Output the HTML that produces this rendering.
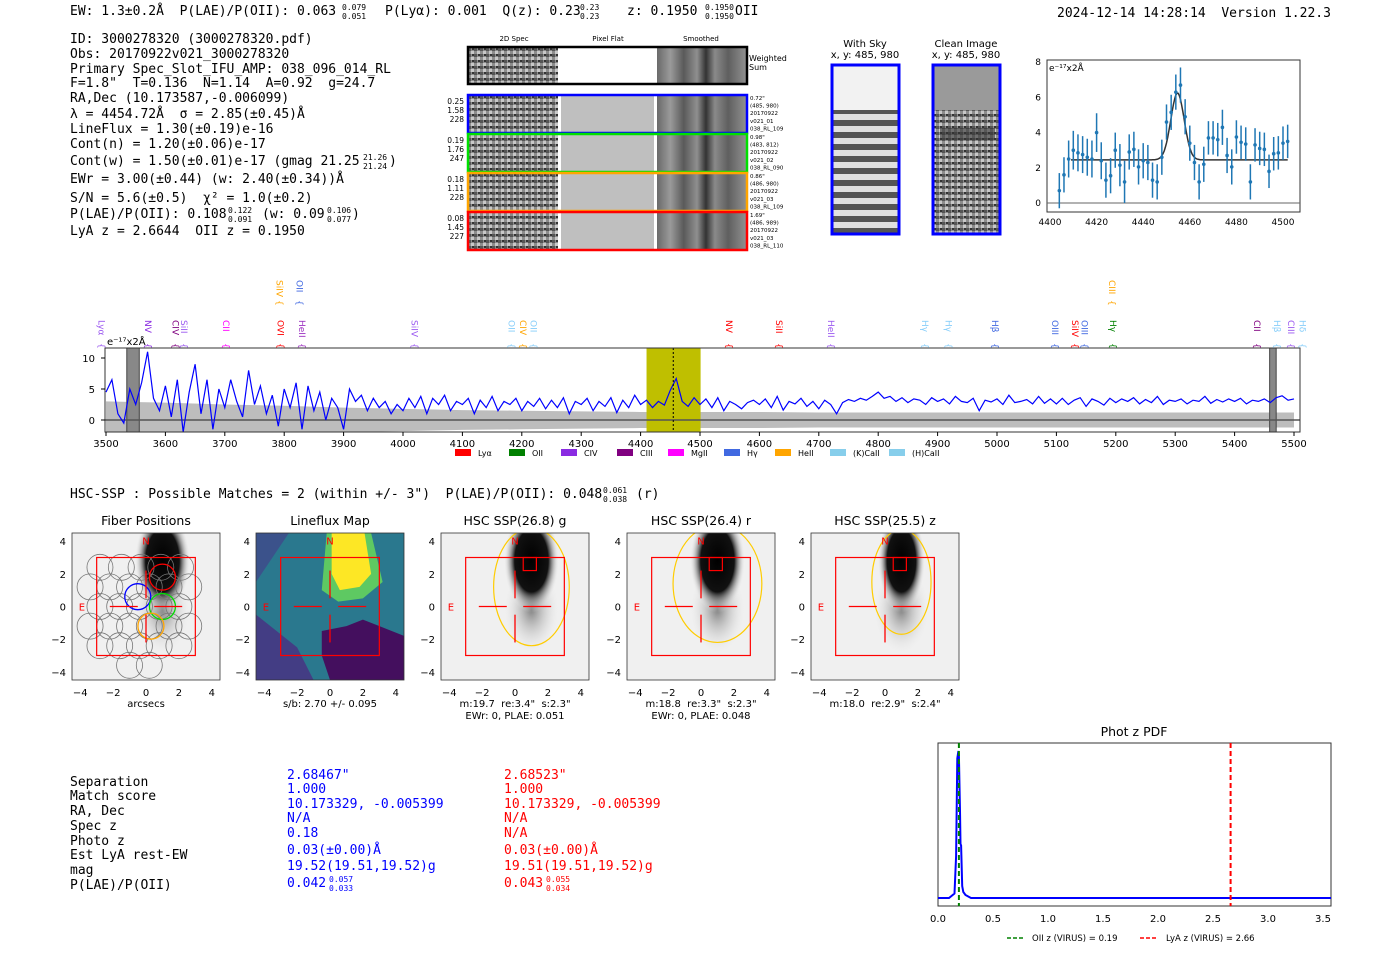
<!DOCTYPE html>
<html><head><meta charset="utf-8"><style>
html,body{margin:0;padding:0;background:#fff;}
svg{display:block;}
text{white-space:pre;}
.m{font-family:"DejaVu Sans Mono","Liberation Mono",monospace;font-size:13px;fill:#000;}
.s{font-family:"DejaVu Sans","Liberation Sans",sans-serif;}
</style></head><body>
<svg id="root" width="1400" height="953" viewBox="0 0 1400 953" xmlns="http://www.w3.org/2000/svg" xml:space="preserve">
<defs>
 <linearGradient id="smooth" x1="0" x2="1" y1="0" y2="0">
  <stop offset="0" stop-color="#6a6a6a"/><stop offset="0.15" stop-color="#9a9a9a"/><stop offset="0.3" stop-color="#5a5a5a"/><stop offset="0.45" stop-color="#8f8f8f"/><stop offset="0.55" stop-color="#333"/><stop offset="0.65" stop-color="#8a8a8a"/><stop offset="0.8" stop-color="#5f5f5f"/><stop offset="1" stop-color="#909090"/>
 </linearGradient>
 <pattern id="noise" width="6" height="6" patternUnits="userSpaceOnUse">
  <rect width="6" height="6" fill="#8c8c8c"/><rect x="0" y="0" width="3" height="3" fill="#555"/><rect x="3" y="3" width="3" height="3" fill="#c8c8c8"/><rect x="4" y="0" width="2" height="2" fill="#333"/>
 </pattern>
 <pattern id="sky" width="10" height="12" patternUnits="userSpaceOnUse">
  <rect width="10" height="12" fill="#e0e0e0"/><rect y="0" width="10" height="6" fill="#555"/>
 </pattern>
 <radialGradient id="blob" cx="0.5" cy="0.5" r="0.5"><stop offset="0" stop-color="#000"/><stop offset="0.6" stop-color="#111"/><stop offset="1" stop-color="#fff" stop-opacity="0"/></radialGradient>
 <radialGradient id="tail" cx="0.5" cy="0.5" r="0.5"><stop offset="0" stop-color="#666" stop-opacity="0.8"/><stop offset="1" stop-color="#fff" stop-opacity="0"/></radialGradient>
</defs>

<g>
<text class="m" x="70" y="15">EW: 1.3±0.2Å  P(LAE)/P(OII): 0.063</text>
<text class="m" x="342" y="10" style="font-size:8px">0.079</text>
<text class="m" x="342" y="19" style="font-size:8px">0.051</text>
<text class="m" x="385" y="15">P(Lyα): 0.001  Q(z): 0.23</text>
<text class="m" x="580" y="10" style="font-size:8px">0.23</text>
<text class="m" x="580" y="19" style="font-size:8px">0.23</text>
<text class="m" x="627" y="15">z: 0.1950</text>
<text class="m" x="705" y="10" style="font-size:8px">0.1950</text>
<text class="m" x="705" y="19" style="font-size:8px">0.1950</text>
<text class="m" x="735" y="15">OII</text>
<text class="m" x="1057" y="17">2024-12-14 14:28:14  Version 1.22.3</text>
</g>

<g>
<text class="m" x="70" y="43">ID: 3000278320 (3000278320.pdf)</text>
<text class="m" x="70" y="58">Obs: 20170922v021_3000278320</text>
<text class="m" x="70" y="73">Primary Spec_Slot_IFU_AMP: 038_096_014_RL</text>
<text class="m" x="70" y="87">F=1.8"  T=0.136  N=1.14  A=0.92  g=24.7</text>
<text class="m" x="70" y="102">RA,Dec (10.173587,-0.006099)</text>
<text class="m" x="70" y="118">λ = 4454.72Å  σ = 2.85(±0.45)Å</text>
<text class="m" x="70" y="133">LineFlux = 1.30(±0.19)e-16</text>
<text class="m" x="70" y="148">Cont(n) = 1.20(±0.06)e-17</text>
<text class="m" x="70" y="165">Cont(w) = 1.50(±0.01)e-17 (gmag 21.25</text>
<text class="m" x="363" y="160" style="font-size:8px">21.26</text>
<text class="m" x="363" y="169" style="font-size:8px">21.24</text>
<text class="m" x="389" y="165">)</text>
<text class="m" x="70" y="183">EWr = 3.00(±0.44) (w: 2.40(±0.34))Å</text>
<text class="m" x="70" y="202">S/N = 5.6(±0.5)  χ² = 1.0(±0.2)</text>
<text class="m" x="70" y="218">P(LAE)/P(OII): 0.108</text>
<text class="m" x="228" y="213" style="font-size:8px">0.122</text>
<text class="m" x="228" y="222" style="font-size:8px">0.091</text>
<text class="m" x="262" y="218">(w: 0.09</text>
<text class="m" x="327" y="213" style="font-size:8px">0.106</text>
<text class="m" x="327" y="222" style="font-size:8px">0.077</text>
<text class="m" x="352" y="218">)</text>
<text class="m" x="70" y="235">LyA z = 2.6644  OII z = 0.1950</text>
</g>

<g id="spec2d" class="s" font-size="7">
<text x="514" y="41" text-anchor="middle">2D Spec</text>
<text x="608" y="41" text-anchor="middle">Pixel Flat</text>
<text x="701" y="41" text-anchor="middle">Smoothed</text>
<text x="749" y="61" font-size="8">Weighted</text>
<text x="749" y="70" font-size="8">Sum</text>
</g>

<g>
<text class="s" x="865" y="47" font-size="10" text-anchor="middle">With Sky</text>
<text class="s" x="865" y="58" font-size="10" text-anchor="middle">x, y: 485, 980</text>
<rect x="832" y="65" width="67" height="169" fill="#f2f2f2"/>
<rect x="832" y="110" width="67" height="124" fill="url(#sky)"/>
<rect x="832" y="65" width="67" height="169" fill="none" stroke="#0000ff" stroke-width="3"/>
</g>
<g>
<text class="s" x="966" y="47" font-size="10" text-anchor="middle">Clean Image</text>
<text class="s" x="966" y="58" font-size="10" text-anchor="middle">x, y: 485, 980</text>
<rect x="933" y="65" width="67" height="169" fill="#9a9a9a"/>
<rect x="933" y="110" width="67" height="124" fill="url(#noise)"/>
<rect x="940" y="128" width="55" height="12" fill="#333" opacity="0.6"/>
<rect x="933" y="65" width="67" height="169" fill="none" stroke="#0000ff" stroke-width="3"/>
</g>

<g id="zoomchart"></g>
<g id="spectrum"></g>

<text class="m" x="70" y="498">HSC-SSP : Possible Matches = 2 (within +/- 3")  P(LAE)/P(OII): 0.048</text>
<text class="m" x="603" y="493" style="font-size:8px">0.061</text>
<text class="m" x="603" y="502" style="font-size:8px">0.038</text>
<text class="m" x="636" y="498">(r)</text>

<g id="cutouts"></g>

<g>
<g class="m">
<text class="m" x="70" y="786">Separation</text><text class="m" x="70" y="800">Match score</text><text class="m" x="70" y="815">RA, Dec</text><text class="m" x="70" y="830">Spec z</text><text class="m" x="70" y="845">Photo z</text><text class="m" x="70" y="859">Est LyA rest-EW</text><text class="m" x="70" y="874">mag</text><text class="m" x="70" y="889">P(LAE)/P(OII)</text>
</g>
<g>
<text class="m" x="287" y="779" style="fill:#0000ff">2.68467"</text><text class="m" x="287" y="793" style="fill:#0000ff">1.000</text><text class="m" x="287" y="808" style="fill:#0000ff">10.173329, -0.005399</text><text class="m" x="287" y="822" style="fill:#0000ff">N/A</text><text class="m" x="287" y="837" style="fill:#0000ff">0.18</text><text class="m" x="287" y="854" style="fill:#0000ff">0.03(±0.00)Å</text><text class="m" x="287" y="870" style="fill:#0000ff">19.52(19.51,19.52)g</text><text class="m" x="287" y="887" style="fill:#0000ff">0.042</text><text class="m" x="329" y="882" style="fill:#0000ff;font-size:8px">0.057</text><text class="m" x="329" y="891" style="fill:#0000ff;font-size:8px">0.033</text>
</g>
<g>
<text class="m" x="504" y="779" style="fill:#ff0000">2.68523"</text><text class="m" x="504" y="793" style="fill:#ff0000">1.000</text><text class="m" x="504" y="808" style="fill:#ff0000">10.173329, -0.005399</text><text class="m" x="504" y="822" style="fill:#ff0000">N/A</text><text class="m" x="504" y="837" style="fill:#ff0000">N/A</text><text class="m" x="504" y="854" style="fill:#ff0000">0.03(±0.00)Å</text><text class="m" x="504" y="870" style="fill:#ff0000">19.51(19.51,19.52)g</text><text class="m" x="504" y="887" style="fill:#ff0000">0.043</text><text class="m" x="546" y="882" style="fill:#ff0000;font-size:8px">0.055</text><text class="m" x="546" y="891" style="fill:#ff0000;font-size:8px">0.034</text>
</g>
</g>

<g id="photz"></g>
</svg>

<script>
const NS='http://www.w3.org/2000/svg';
function mk(tag,attrs,parent,txt){const e=document.createElementNS(NS,tag);for(const k in attrs)e.setAttribute(k,attrs[k]);if(txt!==undefined)e.textContent=txt;parent.appendChild(e);return e;}

/* ---------- full spectrum data ---------- */
const specStart=3500, specStep=10;
const specFlux=[
4.5,6.5,1.0,-0.5,5.0,2.5,6.0,11.0,3.5,1.5,
5.5,0.5,6.5,-2.0,4.5,9.0,1.0,6.5,-1.5,5.0,
2.0,6.5,3.0,0.5,8.0,2.5,5.5,1.0,4.0,-1.0,
5.0,2.0,6.0,-1.5,5.5,1.5,4.5,0.0,3.5,2.0,
-1.5,5.0,3.0,4.0,1.5,3.5,2.0,3.0,1.0,2.5,
1.5,3.5,2.0,3.8,1.0,3.5,2.5,4.0,1.5,3.0,
2.5,3.5,1.0,3.2,2.0,3.8,1.5,3.0,2.5,3.5,
1.5,3.0,2.2,3.5,1.8,3.2,2.0,3.6,1.0,3.0,
2.5,3.5,1.5,3.0,2.2,3.6,1.2,3.2,2.0,4.0,
2.5,3.2,2.0,3.0,2.4,4.8,6.7,3.0,2.2,3.6,
2.5,3.4,2.0,3.6,1.5,3.0,2.5,1.8,2.8,3.2,
2.5,3.4,2.0,3.8,1.6,3.0,2.6,3.5,2.2,3.0,
1.8,3.2,2.5,1.0,2.8,3.3,3.0,3.5,3.2,3.8,
4.5,3.5,3.8,3.0,3.6,2.8,3.4,3.2,2.5,3.6,
3.0,3.4,2.6,3.8,3.0,2.8,3.5,1.5,3.2,2.9,
3.4,2.5,4.0,2.8,3.0,3.3,2.6,3.8,2.7,3.4,
2.6,3.5,2.5,3.2,3.6,2.2,3.4,3.0,2.4,3.5,
2.8,3.4,3.0,3.6,2.6,3.3,2.8,3.8,2.5,3.2,
3.0,3.4,2.6,3.2,3.0,3.8,2.7,3.3,2.9,3.4,
3.0,3.5,2.6,3.2,3.0,3.4,2.8,3.6,3.9,3.2,
3.4];
const errWave=[3500,3600,3700,3800,3900,4000,4100,4200,4300,4400,4500,4600,4700,4800,4900,5000,5100,5200,5300,5400,5500];
const errVal=[3.0,2.8,2.5,2.3,2.0,1.8,1.6,1.5,1.4,1.3,1.3,1.3,1.2,1.2,1.2,1.2,1.2,1.2,1.2,1.2,1.2];
const specXTicks=[3500,3600,3700,3800,3900,4000,4100,4200,4300,4400,4500,4600,4700,4800,4900,5000,5100,5200,5300,5400,5500];
const specYTicks=[0,5,10];
const lineNames=['Lyα','NV','CIV','SiII','CII','OVI','HeII','SiIV','OII','CIV','OII','NV','SiII','HeII','Hγ','Hγ','Hβ','OIII','SiIV','OIII','Hγ','CII','Hβ','CIII','Hδ','SiIV','OII','CIII'];
const lineWave=[3491,3569,3615,3630,3700,3792,3828,4018,4181,4200,4218,4547,4631,4719,4877,4917,4995,5096,5130,5146,5194,5436,5470,5493,5513,3790,3824,5192];
const lineColor=['#9b59f0','#8a2be2','#800080','#9b59f0','#ff00ff','#ff0000','#9b30c0','#9b59f0','#87cefa','#ffa500','#87cefa','#ff0000','#ff0000','#9b59f0','#87cefa','#87cefa','#4169e1','#4169e1','#ff0000','#4169e1','#008000','#800080','#87cefa','#9b59f0','#87cefa','#ffa500','#4169e1','#ffa500'];
const lineRow=[0,0,0,0,0,0,0,0,0,0,0,0,0,0,0,0,0,0,0,0,0,0,0,0,0,1,1,1];
const legendNames=['Lyα','OII','CIV','CIII','MgII','Hγ','HeII','(K)CaII','(H)CaII'];
const legendColors=['#ff0000','#008000','#8a2be2','#800080','#ff00ff','#4169e1','#ffa500','#87ceeb','#87ceeb'];

const SP={x0:106,x1:1294,y0:420,k:6.2,left:105,right:1300,top:348,bot:432};
function xS(w){return SP.x0+(w-3500)*(SP.x1-SP.x0)/2000;}
function yS(v){return SP.y0-v*SP.k;}
const sp=document.getElementById('spectrum');
let bg=mk('rect',{x:SP.left,y:SP.top,width:SP.right-SP.left,height:SP.bot-SP.top,fill:'#fff'},sp);


let up='',lo='';
errWave.forEach((w,i)=>{up+=(i?'L':'M')+Math.min(xS(w),SP.right)+','+Math.max(yS(errVal[i]),SP.top)+' ';});
for(let i=errWave.length-1;i>=0;i--){lo+='L'+Math.min(xS(errWave[i]),SP.right)+','+Math.min(yS(-errVal[i]),SP.bot)+' ';}
let band=mk('path',{d:up+lo+'Z',fill:'#bdbdbd'},sp);


let win=mk('rect',{x:xS(4410),y:SP.top,width:xS(4501)-xS(4410),height:SP.bot-SP.top,fill:'#bfbf00'},sp);


let g1=mk('rect',{x:xS(3535),y:SP.top,width:xS(3556)-xS(3535),height:SP.bot-SP.top,fill:'#888',stroke:'#444'},sp);


let g2=mk('rect',{x:xS(5459),y:SP.top,width:xS(5470)-xS(5459),height:SP.bot-SP.top,fill:'#888',stroke:'#444'},sp);


let zl=mk('line',{x1:SP.left,x2:SP.right,y1:yS(0),y2:yS(0),stroke:'#555','stroke-width':1.5},sp);


let d='';
specFlux.forEach((v,i)=>{const w=specStart+i*specStep;d+=(i?'L':'M')+xS(w).toFixed(1)+','+Math.max(SP.top,Math.min(SP.bot,yS(v))).toFixed(1)+' ';});
let fl=mk('path',{d:d,fill:'none',stroke:'#0000ff','stroke-width':1.2},sp);


let dl=mk('line',{x1:xS(4455),x2:xS(4455),y1:SP.top,y2:SP.bot,stroke:'#000','stroke-dasharray':'2,2'},sp);


let fr=mk('rect',{x:SP.left,y:SP.top,width:SP.right-SP.left,height:SP.bot-SP.top,fill:'none',stroke:'#333'},sp);


specXTicks.forEach(t=>{
 let tk=mk('line',{x1:xS(t),x2:xS(t),y1:SP.bot,y2:SP.bot+4,stroke:'#000'},sp);
 
 
 let tl=mk('text',{x:xS(t),y:SP.bot+15,'font-size':10,'text-anchor':'middle',class:'s'},sp,String(t));
 
 
});
specYTicks.forEach(t=>{
 let tk=mk('line',{x1:SP.left-4,x2:SP.left,y1:yS(t),y2:yS(t),stroke:'#000'},sp);
 
 
 let tl=mk('text',{x:SP.left-10,y:yS(t)+4,'font-size':10,'text-anchor':'end',class:'s'},sp,String(t));
 
 
});
let ul=mk('text',{x:107,y:345,'font-size':10,class:'s'},sp,'e⁻¹⁷x2Å');


lineNames.forEach((n,i)=>{
 const x=xS(lineWave[i]);const top=lineRow[i]?280:320;
 let t=mk('text',{x:x,y:top,'font-size':9,class:'s',fill:lineColor[i],style:'writing-mode:vertical-rl'},sp,n);
 
 
 let b=mk('text',{x:x,y:top+(lineRow[i]?20:23),'font-size':9,class:'s',fill:lineColor[i],style:'writing-mode:vertical-rl'},sp,'{');
 
 
});
const legX=[455,509,561,617,668,724,775,830,889];
legendNames.forEach((n,i)=>{
 let r=mk('rect',{x:legX[i],y:449,width:16,height:7,fill:legendColors[i]},sp);
 
 
 let t=mk('text',{x:legX[i]+23,y:456,'font-size':8,class:'s'},sp,n);
 
 
});

/* ---------- zoomed line fit ---------- */
const fitWave=[4404,4406,4408,4410,4412,4414,4416,4418,4420,4422,4424,4426,4428,4430,4432,4434,4436,4438,4440,4442,4444,4446,4448,4450,4452,4454,4456,4458,4460,4462,4464,4466,4468,4470,4472,4474,4476,4478,4480,4482,4484,4486,4488,4490,4492,4494,4496,4498,4500,4502];
const fitFlux=[0.7,1.6,2.5,3.0,2.85,2.75,2.6,2.5,4.0,2.4,1.3,1.55,3.0,2.15,1.2,2.9,3.05,2.05,2.4,2.3,1.3,1.2,2.6,4.6,5.15,6.3,6.7,4.9,3.4,2.3,1.2,2.2,3.7,3.7,3.6,4.3,2.7,2.05,3.75,3.45,3.35,1.2,3.3,3.1,3.05,1.8,2.8,2.85,3.4,3.5];
const fitErr=[1.0,1.0,1.05,1.1,1.05,1.05,1.05,1.05,1.1,1.05,1.0,1.0,1.0,1.2,1.2,1.0,1.0,1.0,1.0,1.0,1.0,1.0,1.0,1.0,1.0,1.0,1.0,1.0,1.0,1.0,1.0,1.0,0.95,0.95,0.95,1.0,1.0,1.0,0.95,0.95,0.95,1.0,0.95,0.95,0.95,0.95,0.95,0.95,0.95,0.95];
const fitCont=2.45, fitAmp=3.8, fitMu=4454.72, fitSig=2.85;
const zXTicks=[4400,4420,4440,4460,4480,4500], zYTicks=[0,2,4,6,8];
const ZC={l:1047,r:1300,t:60,b:212};
function xZ(w){return 1050+(w-4400)*2.33;}
function yZ(v){return 203-v*17.6;}
const zc=document.getElementById('zoomchart');
let zbg=mk('rect',{x:ZC.l,y:ZC.t,width:ZC.r-ZC.l,height:ZC.b-ZC.t,fill:'#fff',stroke:'#333'},zc);


let z0=mk('line',{x1:ZC.l,x2:ZC.r,y1:yZ(0),y2:yZ(0),stroke:'#666'},zc);


let fd='';
for(let w=4409;w<=4502;w+=0.5){const v=fitCont+fitAmp*Math.exp(-0.5*Math.pow((w-fitMu)/fitSig,2));fd+=(w===4409?'M':'L')+xZ(w).toFixed(1)+','+yZ(v).toFixed(1);}
let fc=mk('path',{d:fd,fill:'none',stroke:'#333','stroke-width':1.5},zc);


fitWave.forEach((w,i)=>{
 let e=mk('line',{x1:xZ(w),x2:xZ(w),y1:Math.min(ZC.b,yZ(fitFlux[i]-fitErr[i])),y2:yZ(fitFlux[i]+fitErr[i]),stroke:'#1f77b4','stroke-width':1.5},zc);
 
 
 let p=mk('circle',{cx:xZ(w),cy:yZ(fitFlux[i]),r:1.8,fill:'#1f77b4'},zc);
 
 
});
zXTicks.forEach(t=>{
 let l=mk('text',{x:xZ(t),y:ZC.b+13,'font-size':9,'text-anchor':'middle',class:'s'},zc,String(t));
 
 
});
zYTicks.forEach(t=>{
 let l=mk('text',{x:ZC.l-6,y:yZ(t)+3,'font-size':9,'text-anchor':'end',class:'s'},zc,String(t));
 
 
});
let zu=mk('text',{x:1049,y:71,'font-size':9,class:'s'},zc,'e⁻¹⁷x2Å');



/* ---------- 2D spectra cutouts ---------- */
const s2=document.getElementById('spec2d');
const rowY=[47,95,134,173,212], rowCol=['#000','#0000ff','#00e000','#ffa500','#ff0000'];
const rowNums=[null,['0.25','1.58','228'],['0.19','1.76','247'],['0.18','1.11','228'],['0.08','1.45','227']];
const rowInfo=[null,['0.72"','(485, 980)','20170922','v021_01','038_RL_109'],['0.98"','(483, 812)','20170922','v021_02','038_RL_090'],['0.86"','(486, 980)','20170922','v021_03','038_RL_109'],['1.69"','(486, 989)','20170922','v021_03','038_RL_110']];
rowY.forEach((y,i)=>{
 const h=i?38:37;
 let a=mk('rect',{x:469,y:y,width:89,height:h,fill:'url(#noise)'},s2);
 
 
 let b=mk('rect',{x:561,y:y,width:93,height:h,fill:i?'#bfbfbf':'#fff'},s2);
 
 
 let c=mk('rect',{x:657,y:y,width:89,height:h,fill:'url(#smooth)'},s2);
 
 
 let f=mk('rect',{x:468,y:y,width:279,height:h,fill:'none',stroke:rowCol[i],'stroke-width':2.5},s2);
 
 
 if(i){
  rowNums[i].forEach((s,j)=>{let t=mk('text',{x:464,y:y+9+j*9,'text-anchor':'end','font-size':7.5},s2,s);
   
   });
  rowInfo[i].forEach((s,j)=>{let t=mk('text',{x:750,y:y+5+j*7.6,'font-size':5.5},s2,s);
   
   });
 }
});

/* ---------- imaging cutouts ---------- */
const cut=document.getElementById('cutouts');
const defs=document.querySelector('defs');
const panelTitles=['Fiber Positions','Lineflux Map','HSC SSP(26.8) g','HSC SSP(26.4) r','HSC SSP(25.5) z'];
const panelLeft=[72,256,441,627,811];
const panelCap1=['arcsecs','s/b: 2.70 +/- 0.095','m:19.7  re:3.4"  s:2.3"','m:18.8  re:3.3"  s:2.3"','m:18.0  re:2.9"  s:2.4"'];
const panelCap2=['','','EWr: 0, PLAE: 0.051','EWr: 0, PLAE: 0.048',''];
const ellipseRx=[0,0,2.3,2.7,1.8], ellipseRy=[0,0,3.6,3.6,3.2], ellipseCy=[0,0,1.2,1.4,1.5];
const PW=148,PT=533,PB=680;
panelLeft.forEach((L,p)=>{
 const X=v=>L+(v+4.5)*PW/9, Y=v=>PB-(v+4.5)*(PB-PT)/9;
 const cp=mk('clipPath',{id:'clip'+p},defs);
 mk('rect',{x:L,y:PT,width:PW,height:PB-PT},cp);
 const g=mk('g',{},cut);
 
 
 const ig=mk('g',{'clip-path':'url(#clip'+p+')'},g);
 
 
 let ttl=mk('text',{x:L+PW/2,y:525,'font-size':12.5,'text-anchor':'middle',class:'s'},g,panelTitles[p]);
 
 
 if(p===1){
  let b=mk('rect',{x:L,y:PT,width:PW,height:PB-PT,fill:'#2a788e'},ig);
  
  
  let d1=mk('path',{d:`M${L},${Y(1.5)} L${X(-2.5)},${Y(4.5)} L${L},${Y(4.5)}Z`,fill:'#3b528b'},ig);
  
  
  let d2=mk('path',{d:`M${X(-0.5)},${Y(-1.5)} L${X(1)},${Y(-1.2)} L${X(2)},${Y(-0.8)} L${X(4.5)},${Y(-1.8)} L${X(4.5)},${Y(-4.5)} L${X(0)},${Y(-4.5)} L${X(-0.5)},${Y(-3)}Z`,fill:'#440f5e'},ig);
  
  
  let d3=mk('path',{d:`M${L},${Y(-0.5)} L${X(-2)},${Y(-2.5)} L${X(-1)},${Y(-4.5)} L${L},${Y(-4.5)}Z`,fill:'#433d84'},ig);
  
  
  let gr=mk('path',{d:`M${X(-0.2)},${Y(4.5)} L${X(2.5)},${Y(4.5)} L${X(3.2)},${Y(1.5)} L${X(2)},${Y(0.5)} L${X(0.5)},${Y(0.3)} L${X(-0.5)},${Y(1)}Z`,fill:'#5ec962'},ig);
  
  
  let yl=mk('path',{d:`M${X(0.1)},${Y(4.5)} L${X(2.1)},${Y(4.5)} L${X(2.5)},${Y(2)} L${X(1.8)},${Y(1.2)} L${X(0.6)},${Y(1)} L${X(0.1)},${Y(2)}Z`,fill:'#fde725'},ig);
  
  
 } else {
  let b=mk('rect',{x:L,y:PT,width:PW,height:PB-PT,fill:'#f0f0f0'},ig);
  
  
  let t=mk('ellipse',{cx:X(1),cy:Y(-0.2),rx:30,ry:48,fill:'url(#tail)'},ig);
  
  
  let bl=mk('ellipse',{cx:X(1),cy:Y(2.8),rx:p===4?24:28,ry:52,fill:'url(#blob)'},ig);
  
  
 }
 if(p===0){
  const fx=[-2.8,-1.5,-0.3,0.9,2.1,-3.4,-2.2,-1,0.2,1.4,2.6,-2.8,-1.6,-0.4,0.8,2,-3.4,-2.2,-1,0.2,1.4,2.6,-2.8,-1.6,-0.4,0.8,2,-1,0.2];
  const fy=[2.4,2.4,2.4,2.4,2.4,1.2,1.2,1.2,1.2,1.2,1.2,0,0,0,0,0,-1.2,-1.2,-1.2,-1.2,-1.2,-1.2,-2.4,-2.4,-2.4,-2.4,-2.4,-3.6,-3.6];
  fx.forEach((x,i)=>{let c=mk('circle',{cx:X(x),cy:Y(fy[i]),r:13,fill:'none',stroke:'#777','stroke-width':0.8},ig);
   
   });
  [[1,1.8,'#ff0000'],[-0.5,0.6,'#0000ff'],[1,0,'#00dd00'],[0.3,-1.2,'#ffa500']].forEach(f=>{let c=mk('circle',{cx:X(f[0]),cy:Y(f[1]),r:13,fill:'none',stroke:f[2],'stroke-width':1.3},ig);
   
   });
 }
 if(ellipseRx[p]){
  let e=mk('ellipse',{cx:X(1),cy:Y(ellipseCy[p]),rx:ellipseRx[p]*PW/9,ry:ellipseRy[p]*(PB-PT)/9,fill:'none',stroke:'#ffcc00','stroke-width':1.2},ig);
  
  
  let sq=mk('rect',{x:X(0.5),y:Y(3),width:X(1.3)-X(0.5),height:Y(2.2)-Y(3),fill:'none',stroke:'#ff0000','stroke-width':1.2},ig);
  
  
 }
 let box=mk('rect',{x:X(-3),y:Y(3),width:X(3)-X(-3),height:Y(-3)-Y(3),fill:'none',stroke:'#ff0000','stroke-width':1.2},ig);
 
 
 [[X(-2.2),Y(0),X(-0.5),Y(0)],[X(0.5),Y(0),X(2.2),Y(0)],[X(0),Y(2.2),X(0),Y(0.5)],[X(0),Y(-0.5),X(0),Y(-2.2)]].forEach(c=>{
  let l=mk('line',{x1:c[0],y1:c[1],x2:c[2],y2:c[3],stroke:'#ff0000','stroke-width':1.3},ig);
  
  
 });
 let n=mk('text',{x:X(0),y:Y(3.8),'font-size':10,fill:'#ff0000','text-anchor':'middle',class:'s'},g,'N');
 
 
 let e=mk('text',{x:X(-3.9),y:Y(0)+4,'font-size':10,fill:'#ff0000','text-anchor':'middle',class:'s'},g,'E');
 
 
 let fr=mk('rect',{x:L,y:PT,width:PW,height:PB-PT,fill:'none',stroke:'#333','stroke-width':0.8},g);
 
 
 [-4,-2,0,2,4].forEach(v=>{
  let a=mk('text',{x:X(v),y:PB+16,'font-size':10,'text-anchor':'middle',class:'s'},g,v<0?'−'+(-v):String(v));
  
  
  let b=mk('text',{x:L-6,y:Y(v)+4,'font-size':10,'text-anchor':'end',class:'s'},g,v<0?'−'+(-v):String(v));
  
  
 });
 let c1=mk('text',{x:L+PW/2,y:707,'font-size':10,'text-anchor':'middle',class:'s'},g,panelCap1[p]);
 
 
 if(panelCap2[p]){let c2=mk('text',{x:L+PW/2,y:719,'font-size':10,'text-anchor':'middle',class:'s'},g,panelCap2[p]);
  
  }
});

/* ---------- phot z PDF ---------- */
const pzZ=[0,0.1,0.15,0.165,0.175,0.185,0.19,0.2,0.205,0.21,0.22,0.23,0.25,0.3,0.5,1,2,3,3.6];
const pzP=[0.02,0.02,0.05,0.3,0.95,1.0,0.97,0.6,0.38,0.37,0.1,0.06,0.04,0.02,0.02,0.02,0.02,0.02,0.02];
const pzXTicks=[0,0.5,1,1.5,2,2.5,3,3.5];
const oiiZ=0.19, lyaZ=2.66;
const PZ={l:938,r:1331,t:743,b:906};
function xP(z){return PZ.l+z*110;}
function yP(v){return 901-v*150;}
const pz=document.getElementById('photz');
let pt=mk('text',{x:1134,y:736,'font-size':12.5,'text-anchor':'middle',class:'s'},pz,'Phot z PDF');


let pf=mk('rect',{x:PZ.l,y:PZ.t,width:PZ.r-PZ.l,height:PZ.b-PZ.t,fill:'#fff',stroke:'#333'},pz);


let pd='';pzZ.forEach((z,i)=>{pd+=(i?'L':'M')+Math.min(xP(z),PZ.r).toFixed(1)+','+yP(pzP[i]).toFixed(1);});
let pc=mk('path',{d:pd,fill:'none',stroke:'#0000ff','stroke-width':2},pz);


let gz=mk('line',{x1:xP(oiiZ),x2:xP(oiiZ),y1:PZ.t,y2:PZ.b,stroke:'#008000','stroke-width':2,'stroke-dasharray':'5,3'},pz);


let rz=mk('line',{x1:xP(lyaZ),x2:xP(lyaZ),y1:PZ.t,y2:PZ.b,stroke:'#ff0000','stroke-width':2,'stroke-dasharray':'5,3'},pz);


pzXTicks.forEach(t=>{
 let l=mk('text',{x:xP(t),y:PZ.b+16,'font-size':10,'text-anchor':'middle',class:'s'},pz,t.toFixed(1));
 
 
});
let lg1=mk('line',{x1:1007,x2:1025,y1:938,y2:938,stroke:'#008000','stroke-width':1.5,'stroke-dasharray':'4,2'},pz);


let lt1=mk('text',{x:1032,y:941,'font-size':8.5,class:'s'},pz,'OII z (VIRUS) = 0.19');


let lg2=mk('line',{x1:1140,x2:1158,y1:938,y2:938,stroke:'#ff0000','stroke-width':1.5,'stroke-dasharray':'4,2'},pz);


let lt2=mk('text',{x:1166,y:941,'font-size':8.5,class:'s'},pz,'LyA z (VIRUS) = 2.66');


</script>
</body></html>
